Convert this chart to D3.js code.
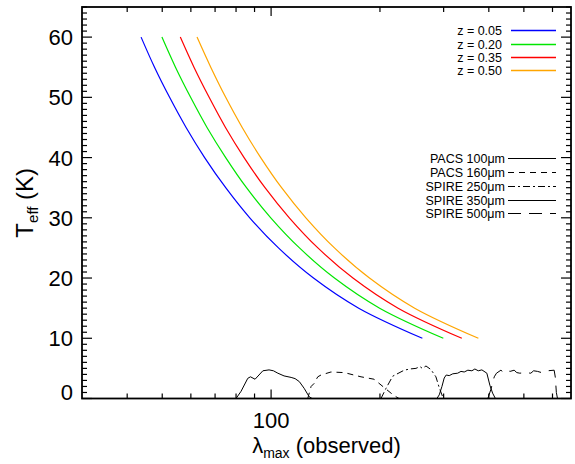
<!DOCTYPE html>
<html>
<head>
<meta charset="UTF-8">
<script src="https://d3js.org/d3.v7.min.js"></script>
<style>
  html, body { margin: 0; padding: 0; background: #fff; }
  svg { display: block; font-family: "Liberation Sans", Arial, Helvetica, sans-serif; }
</style>
</head>
<body>
<svg width="575" height="464"></svg>
<script>
// temperature grid (K) and observed peak wavelength (um)
const tempK   = [60, 55, 50, 45, 40, 35, 30, 25, 20, 15, 10];
const lamZ005 = [43.7, 47.6, 52.4, 58.2, 65.5, 74.9, 87.3, 104.8, 131.0, 174.7, 262.0];
const lamZ020 = [49.9, 54.4, 59.9, 66.5, 74.9, 85.5, 99.8, 119.8, 149.7, 199.6, 299.4];
const lamZ035 = [56.1, 61.2, 67.4, 74.8, 84.2, 96.2, 112.3, 134.7, 168.4, 224.5, 336.8];
const lamZ050 = [62.4, 68.1, 74.9, 83.2, 93.6, 106.9, 124.8, 149.7, 187.1, 249.5, 374.3];
const zLabels = ["z = 0.05", "z = 0.20", "z = 0.35", "z = 0.50"];
const zColors = ["#0000ff", "#00e600", "#ff0000", "#ffa500"];

// filter transmission curves (scaled), [wavelength um, value]
const pacs100 = [[30,0],[80.0,0],[82.6,1.2],[86.2,3.35],[87.7,3.6],[90.3,3.2],[94.9,4.6],[98.7,4.75],
  [101.5,4.6],[104.4,4.2],[108.6,3.75],[113.6,3.5],[116.5,3.3],[119.7,2.8],[123.4,1.7],[127.4,0.3],[129.8,0],[675,0]];
const pacs160 = [[126.3,0],[129,2.0],[131.5,2.5],[134.6,3.6],[137.4,3.9],[146.4,4.4],[159.4,4.3],
  [177.3,3.6],[192.6,3.2],[205.6,1.8],[214.5,0.9],[221.4,0.3],[225.8,0]];
const spire250 = [[201.3,0],[207.9,1.7],[216.9,3.7],[233.4,4.7],[242,4.9],[251.5,5.0],[258,5.3],[262,5.0],
  [268.1,5.4],[276.7,4.8],[285.6,3.6],[291.7,1.8],[298.1,0.3],[300.6,0]];
const spire350 = [[287.4,0],[291.7,0.6],[296.8,2.0],[301.1,3.4],[305,3.9],[310.8,3.8],[318,4.1],[328.0,4.2],
  [335,4.5],[342.0,4.4],[350,4.7],[359.1,4.6],[366,4.9],[374,4.6],[382.7,4.75],[395.0,4.2],[402.7,2.2],
  [409.7,0.9],[417.1,0]];
const spire500 = [[397.5,0],[405.2,1.5],[414.1,3.6],[420,4.2],[432.0,4.7],[438,4.4],[445.9,4.7],[458,4.5],
  [470.0,4.7],[478,4.3],[487.3,4.2],[505,4.3],[522.7,4.2],[532,4.6],[545.5,4.5],[560,4.3],[581.3,4.6],
  [606.3,4.7],[610.9,3.5],[614.9,1.0],[619.4,0]];
const filterNames = ["PACS 100\u03bcm", "PACS 160\u03bcm", "SPIRE 250\u03bcm", "SPIRE 350\u03bcm", "SPIRE 500\u03bcm"];
const filterDash = [null, "6,5", "7,3,2,3", null, "13,8"];

const yTicks = [0, 10, 20, 30, 40, 50, 60];
const xMajor = [100];
const xMinor = [40, 50, 60, 70, 80, 90, 200, 300, 400, 500, 600];

const svg = d3.select("svg");
const L = 82, R = 571, T = 7, B = 398.5;
const x = d3.scaleLog().domain([30, 675]).range([L, R]);
const y = d3.scaleLinear().domain([0, 65]).range([B, T]);

const plot = svg.append("g");
svg.append("clipPath").attr("id", "clip")
  .append("rect").attr("x", L).attr("y", T).attr("width", R - L).attr("height", B - T);

// temperature curves
const tCurves = [lamZ005, lamZ020, lamZ035, lamZ050];
const tLine = d3.line().x(d => x(d[0])).y(d => y(d[1])).curve(d3.curveCatmullRom);
tCurves.forEach((lams, i) => {
  plot.append("path")
    .datum(lams.map((l, j) => [l, tempK[j]]))
    .attr("d", tLine)
    .attr("fill", "none")
    .attr("stroke", zColors[i])
    .attr("stroke-width", 1.2);
});

// filter curves
const fLine = d3.line().x(d => x(d[0])).y(d => y(d[1]));
[pacs100, pacs160, spire250, spire350, spire500].forEach((f, i) => {
  plot.append("path")
    .datum(f)
    .attr("d", fLine)
    .attr("clip-path", "url(#clip)")
    .attr("fill", "none")
    .attr("stroke", "#000")
    .attr("stroke-width", 1)
    .attr("stroke-dasharray", filterDash[i]);
});

// axes frame and ticks
const ax = svg.append("g").attr("stroke", "#000");
ax.append("rect").attr("x", L).attr("y", T).attr("width", R - L).attr("height", B - T)
  .attr("fill", "none").attr("stroke-width", 1.8);

d3.range(0, 66, 1).forEach(v => {
  const len = v % 10 === 0 ? 10 : 5;
  ax.append("line").attr("x1", L).attr("x2", L + len).attr("y1", y(v)).attr("y2", y(v)).attr("stroke-width", 1.2);
  ax.append("line").attr("x1", R).attr("x2", R - len).attr("y1", y(v)).attr("y2", y(v)).attr("stroke-width", 1.2);
});
xMinor.concat(xMajor).forEach(v => {
  const len = xMajor.includes(v) ? 9 : 5;
  ax.append("line").attr("x1", x(v)).attr("x2", x(v)).attr("y1", B).attr("y2", B - len).attr("stroke-width", 1.2);
  ax.append("line").attr("x1", x(v)).attr("x2", x(v)).attr("y1", T).attr("y2", T + len).attr("stroke-width", 1.2);
});

// tick labels
svg.selectAll(".ylab").data(yTicks).join("text")
  .attr("x", 73)
  .attr("y", d => y(d) + (d === 0 ? -7 : 0) + 8)
  .attr("text-anchor", "end")
  .attr("font-size", 22)
  .text(d => d);
svg.selectAll(".xlab").data(xMajor).join("text")
  .attr("x", d => x(d))
  .attr("y", 428)
  .attr("text-anchor", "middle")
  .attr("font-size", 22)
  .text(d => d);

// axis titles
const xt = svg.append("text").attr("x", (L + R) / 2).attr("y", 453)
  .attr("text-anchor", "middle").attr("font-size", 22);
xt.append("tspan").text("\u03bb");
xt.append("tspan").attr("font-size", 14).attr("dy", 5).text("max");
xt.append("tspan").attr("dy", -5).text(" (observed)");

const yt = svg.append("text").attr("transform", `translate(33,${(T + B) / 2}) rotate(-90)`)
  .attr("text-anchor", "middle").attr("font-size", 24);
yt.append("tspan").text("T");
yt.append("tspan").attr("font-size", 15).attr("dy", 5).text("eff");
yt.append("tspan").attr("dy", -5).text(" (K)");

// z legend
const zRows = [30.5, 44.5, 57.5, 70.5];
zLabels.forEach((lab, i) => {
  svg.append("text").attr("x", 502).attr("y", zRows[i] + 4)
    .attr("text-anchor", "end").attr("font-size", 12.5).text(lab);
  svg.append("line").attr("x1", 511).attr("x2", 556).attr("y1", zRows[i]).attr("y2", zRows[i])
    .attr("stroke", zColors[i]).attr("stroke-width", 1.3);
});

// filter legend
const fRows = [158.5, 172.5, 186.5, 200.5, 213.5];
filterNames.forEach((lab, i) => {
  svg.append("text").attr("x", 505).attr("y", fRows[i] + 4)
    .attr("text-anchor", "end").attr("font-size", 12.5).text(lab);
  svg.append("line").attr("x1", 508).attr("x2", 556).attr("y1", fRows[i]).attr("y2", fRows[i])
    .attr("stroke", "#000").attr("stroke-width", 1)
    .attr("stroke-dasharray", filterDash[i]);
});
</script>
</body>
</html>
